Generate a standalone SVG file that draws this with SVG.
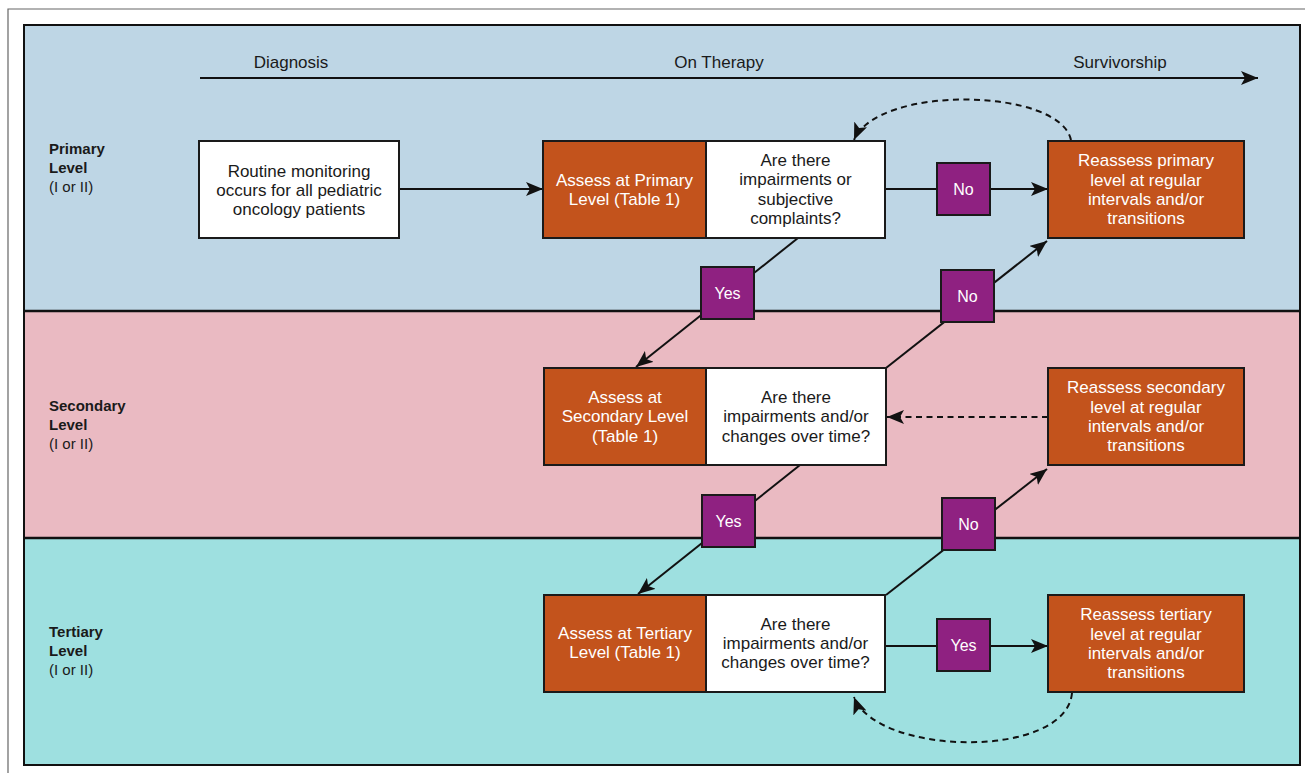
<svg xmlns="http://www.w3.org/2000/svg" width="1305" height="773" viewBox="0 0 1305 773">
<style>
text{font-family:"Liberation Sans",Arial,sans-serif;font-size:17px;fill:#1a1a1a;text-anchor:middle}
.lvl{text-anchor:start;font-size:15px}
.b{font-weight:bold}
.w{fill:#ffffff}
.yn{font-size:16px;fill:#ffffff}
.box{stroke:#1a1a1a;stroke-width:2}
.wh{fill:#ffffff}
.or{fill:#C3531C}
.pu{fill:#8F2181}
.ln{stroke:#111;stroke-width:2;fill:none}
.dash{stroke:#111;stroke-width:2;fill:none;stroke-dasharray:6 4.5}
</style>
<defs>
<marker id="ah" markerUnits="userSpaceOnUse" markerWidth="18" markerHeight="14" refX="17" refY="7" orient="auto">
<path d="M0,0 L17,7 L0,14 L4,7 z" fill="#111"/>
</marker>
</defs>
<rect width="1305" height="773" fill="#ffffff"/>
<path d="M8,773 V9 H1305" fill="none" stroke="#666" stroke-width="1.2"/>
<g id="bands">
<rect x="24" y="25" width="1276" height="286" fill="#BED6E5"/>
<rect x="24" y="311" width="1276" height="227" fill="#EABAC2"/>
<rect x="24" y="538" width="1276" height="227" fill="#9EE0E0"/>
<rect x="24" y="25" width="1276" height="740" fill="none" stroke="#111" stroke-width="2"/>
<line x1="24" y1="311" x2="1300" y2="311" stroke="#111" stroke-width="2.5"/>
<line x1="24" y1="538" x2="1300" y2="538" stroke="#111" stroke-width="2.5"/>
</g>
<g id="timeline">
<text x="291" y="68">Diagnosis</text>
<text x="719" y="68">On Therapy</text>
<text x="1120" y="68">Survivorship</text>
<line x1="200" y1="78" x2="1258" y2="78" class="ln" marker-end="url(#ah)"/>
</g>
<g id="level-labels">
<text class="lvl b" x="49" y="154">Primary</text>
<text class="lvl b" x="49" y="173">Level</text>
<text class="lvl" x="49" y="192">(I or II)</text>
<text class="lvl b" x="49" y="411">Secondary</text>
<text class="lvl b" x="49" y="430">Level</text>
<text class="lvl" x="49" y="449">(I or II)</text>
<text class="lvl b" x="49" y="637">Tertiary</text>
<text class="lvl b" x="49" y="656">Level</text>
<text class="lvl" x="49" y="675">(I or II)</text>
</g>
<g id="connectors">
<line class="ln" x1="399" y1="189" x2="543" y2="189" marker-end="url(#ah)"/>
<line class="ln" x1="885" y1="189" x2="1048" y2="189" marker-end="url(#ah)"/>
<line class="ln" x1="798" y1="238" x2="636" y2="367" marker-end="url(#ah)"/>
<line class="ln" x1="886" y1="368" x2="1047" y2="241" marker-end="url(#ah)"/>
<line class="ln" x1="800" y1="465" x2="638" y2="594" marker-end="url(#ah)"/>
<line class="ln" x1="886" y1="595" x2="1047" y2="469" marker-end="url(#ah)"/>
<line class="ln" x1="885" y1="646" x2="1048" y2="646" marker-end="url(#ah)"/>
<line class="dash" x1="1048" y1="417" x2="887" y2="417" marker-end="url(#ah)"/>
<path class="dash" d="M1071,140 C1060,88 878,84 854,140" marker-end="url(#ah)"/>
<path class="dash" d="M1072,693 C1066,760 876,756 854,697" marker-end="url(#ah)"/>
</g>
<g id="routine">
<rect class="box wh" x="199" y="141" width="200" height="97"/>
<text x="299" y="176.5">Routine monitoring</text>
<text x="299" y="195.5">occurs for all pediatric</text>
<text x="299" y="214.5">oncology patients</text>
</g>
<g id="assess-primary">
<rect class="box or" x="543" y="141" width="163" height="97"/>
<text class="w" x="624.5" y="186">Assess at Primary</text>
<text class="w" x="624.5" y="205">Level (Table 1)</text>
</g>
<g id="question-primary">
<rect class="box wh" x="706" y="141" width="179" height="97"/>
<text x="795.5" y="166">Are there</text>
<text x="795.5" y="185">impairments or</text>
<text x="795.5" y="204.5">subjective</text>
<text x="795.5" y="223.5">complaints?</text>
</g>
<g id="no-primary">
<rect class="box pu" x="937" y="163" width="53" height="52"/>
<text class="yn" x="963.5" y="195">No</text>
</g>
<g id="reassess-primary">
<rect class="box or" x="1048" y="141" width="196" height="97"/>
<text class="w" x="1146" y="166">Reassess primary</text>
<text class="w" x="1146" y="185.5">level at regular</text>
<text class="w" x="1146" y="205">intervals and/or</text>
<text class="w" x="1146" y="224">transitions</text>
</g>
<g id="yes-primary">
<rect class="box pu" x="701" y="267" width="53" height="52"/>
<text class="yn" x="727.5" y="299">Yes</text>
</g>
<g id="no-secondary-up">
<rect class="box pu" x="941" y="270" width="53" height="52"/>
<text class="yn" x="967.5" y="302">No</text>
</g>
<g id="assess-secondary">
<rect class="box or" x="544" y="368" width="162" height="97"/>
<text class="w" x="625" y="403">Assess at</text>
<text class="w" x="625" y="422">Secondary Level</text>
<text class="w" x="625" y="441.5">(Table 1)</text>
</g>
<g id="question-secondary">
<rect class="box wh" x="706" y="368" width="180" height="97"/>
<text x="796" y="403">Are there</text>
<text x="796" y="422">impairments and/or</text>
<text x="796" y="441.5">changes over time?</text>
</g>
<g id="reassess-secondary">
<rect class="box or" x="1048" y="368" width="196" height="97"/>
<text class="w" x="1146" y="393">Reassess secondary</text>
<text class="w" x="1146" y="412.5">level at regular</text>
<text class="w" x="1146" y="432">intervals and/or</text>
<text class="w" x="1146" y="451">transitions</text>
</g>
<g id="yes-secondary">
<rect class="box pu" x="702" y="495" width="53" height="52"/>
<text class="yn" x="728.5" y="527">Yes</text>
</g>
<g id="no-tertiary-up">
<rect class="box pu" x="942" y="498" width="53" height="52"/>
<text class="yn" x="968.5" y="530">No</text>
</g>
<g id="assess-tertiary">
<rect class="box or" x="544" y="595" width="162" height="97"/>
<text class="w" x="625" y="639">Assess at Tertiary</text>
<text class="w" x="625" y="658">Level (Table 1)</text>
</g>
<g id="question-tertiary">
<rect class="box wh" x="706" y="595" width="179" height="97"/>
<text x="795.5" y="630">Are there</text>
<text x="795.5" y="649">impairments and/or</text>
<text x="795.5" y="668">changes over time?</text>
</g>
<g id="yes-tertiary">
<rect class="box pu" x="937" y="619" width="53" height="52"/>
<text class="yn" x="963.5" y="651">Yes</text>
</g>
<g id="reassess-tertiary">
<rect class="box or" x="1048" y="595" width="196" height="97"/>
<text class="w" x="1146" y="620">Reassess tertiary</text>
<text class="w" x="1146" y="639.5">level at regular</text>
<text class="w" x="1146" y="659">intervals and/or</text>
<text class="w" x="1146" y="678">transitions</text>
</g>
</svg>
